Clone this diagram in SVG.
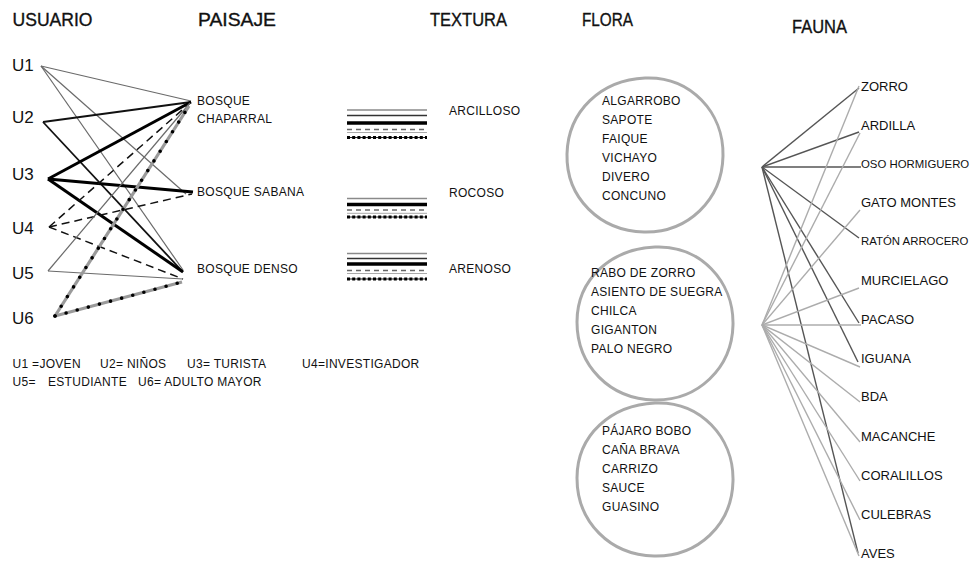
<svg xmlns="http://www.w3.org/2000/svg" width="976" height="561" viewBox="0 0 976 561">
<style>
text{font-family:"Liberation Sans",Arial,sans-serif;fill:#111}
.h{font-size:18px;stroke:#111;stroke-width:0.35}
.u{font-size:17px}
.s{font-size:12px;letter-spacing:0.3px}
.f{font-size:13px}
.fs{font-size:11.4px}
.c1{stroke:#6a6a6a;stroke-width:1.2;fill:none}
.c2{stroke:#111;stroke-width:1.8;fill:none}
.c3{stroke:#000;stroke-width:3;fill:none}
.cd{stroke:#111;stroke-width:1.5;stroke-dasharray:8 5;fill:none}
.cg{stroke:#9a9a9a;stroke-width:3.2;fill:none}
.cp{stroke:#000;stroke-width:3.6;stroke-dasharray:0 11.5;stroke-linecap:round;fill:none}
.fa{stroke:#555;stroke-width:1.4;fill:none}
.fb{stroke:#acacac;stroke-width:1.4;fill:none}
.circ{fill:none;stroke:#aaa;stroke-width:3}
.t1{stroke:#8a8a8a;stroke-width:1.3}
.t2{stroke:#333;stroke-width:1.6}
.t3{stroke:#000;stroke-width:3.5}
.t4{stroke:#666;stroke-width:1.3;stroke-dasharray:5 4}
.t5{stroke:#aaa;stroke-width:1}
.t6a{stroke:#222;stroke-width:1.2}
.t6b{stroke:#000;stroke-width:3.2;stroke-dasharray:3 2.2}
</style>

<!-- headings -->
<g id="headings">
<text class="h" x="12.5" y="26" textLength="80" lengthAdjust="spacingAndGlyphs">USUARIO</text>
<text class="h" x="198" y="26" textLength="78" lengthAdjust="spacingAndGlyphs">PAISAJE</text>
<text class="h" x="430" y="26" textLength="77" lengthAdjust="spacingAndGlyphs">TEXTURA</text>
<text class="h" x="582" y="26" textLength="51" lengthAdjust="spacingAndGlyphs">FLORA</text>
<text class="h" x="792" y="33" textLength="55" lengthAdjust="spacingAndGlyphs">FAUNA</text>
</g>

<!-- connectors -->
<g id="connectors">
<!-- U1 -->
<line class="c1" x1="41" y1="66" x2="191" y2="101"/>
<line class="c1" x1="41" y1="66" x2="186" y2="194"/>
<line class="c1" x1="41" y1="66" x2="183" y2="270"/>
<!-- U2 -->
<line class="c2" x1="43" y1="122" x2="191" y2="102"/>
<line class="c2" x1="43" y1="122" x2="183" y2="272"/>
<!-- U3 -->
<line class="c3" x1="48" y1="179" x2="191" y2="102"/>
<line class="c3" x1="48" y1="179" x2="193" y2="192"/>
<line class="c3" x1="48" y1="179" x2="183" y2="272"/>
<!-- U4 -->
<line class="cd" x1="49" y1="227" x2="189" y2="104"/>
<line class="cd" x1="49" y1="227" x2="192" y2="194"/>
<line class="cd" x1="49" y1="227" x2="183" y2="279"/>
<!-- U5 -->
<line class="c1" x1="48" y1="271" x2="190" y2="103"/>
<line class="c1" x1="48" y1="271" x2="183" y2="279"/>
<!-- U6 -->
<line class="cg" x1="55" y1="316" x2="189" y2="106"/>
<line class="cg" x1="55" y1="316" x2="182" y2="282"/>
<line class="cp" x1="55" y1="316" x2="189" y2="106"/>
<line class="cp" x1="55" y1="316" x2="182" y2="282"/>
<!-- fauna hub A -->
<line class="fa" x1="762" y1="167" x2="859" y2="88"/>
<line class="fa" x1="762" y1="167" x2="859" y2="132"/>
<line class="fa" x1="762" y1="167" x2="861" y2="167"/>
<line class="fa" x1="762" y1="167" x2="859" y2="238"/>
<line class="fa" x1="762" y1="167" x2="859" y2="323"/>
<line class="fa" x1="762" y1="167" x2="858" y2="362"/>
<line class="fa" x1="762" y1="167" x2="858" y2="553"/>
<!-- fauna hub B -->
<line class="fb" x1="762" y1="325" x2="859" y2="86"/>
<line class="fb" x1="762" y1="325" x2="860" y2="133"/>
<line class="fb" x1="762" y1="325" x2="860" y2="210"/>
<line class="fb" x1="762" y1="325" x2="859" y2="288"/>
<line class="fb" x1="762" y1="325" x2="861" y2="325"/>
<line class="fb" x1="762" y1="325" x2="860" y2="367"/>
<line class="fb" x1="762" y1="325" x2="860" y2="402"/>
<line class="fb" x1="762" y1="325" x2="860" y2="442"/>
<line class="fb" x1="762" y1="325" x2="860" y2="481"/>
<line class="fb" x1="762" y1="325" x2="860" y2="520"/>
<line class="fb" x1="762" y1="325" x2="859" y2="556"/>
</g>

<!-- users -->
<g id="U1"><text class="u" x="12" y="71">U1</text></g>
<g id="U2"><text class="u" x="12" y="123">U2</text></g>
<g id="U3"><text class="u" x="12" y="180">U3</text></g>
<g id="U4"><text class="u" x="12" y="234">U4</text></g>
<g id="U5"><text class="u" x="12" y="279">U5</text></g>
<g id="U6"><text class="u" x="12" y="324">U6</text></g>

<!-- paisaje -->
<g id="bosque-chaparral"><text class="s" x="197" y="105">BOSQUE</text><text class="s" x="197" y="123">CHAPARRAL</text></g>
<g id="bosque-sabana"><text class="s" x="197" y="196">BOSQUE SABANA</text></g>
<g id="bosque-denso"><text class="s" x="197" y="273">BOSQUE DENSO</text></g>

<!-- legend -->
<g id="legend">
<text class="s" x="12.5" y="368">U1 =JOVEN</text>
<text class="s" x="100" y="368">U2= NIÑOS</text>
<text class="s" x="187" y="368">U3= TURISTA</text>
<text class="s" x="302" y="368">U4=INVESTIGADOR</text>
<text class="s" x="12.5" y="386">U5=</text>
<text class="s" x="48" y="386">ESTUDIANTE</text>
<text class="s" x="138" y="386">U6= ADULTO MAYOR</text>
</g>

<!-- textura -->
<g id="arcilloso">
<line class="t1" x1="347" y1="110" x2="427" y2="110"/>
<line class="t2" x1="347" y1="115.5" x2="427" y2="115.5"/>
<line class="t3" x1="347" y1="123" x2="427" y2="123"/>
<line class="t4" x1="347" y1="129.5" x2="427" y2="129.5"/>
<line class="t5" x1="347" y1="132.5" x2="427" y2="132.5"/>
<line class="t6a" x1="347" y1="137.5" x2="427" y2="137.5"/>
<line class="t6b" x1="347" y1="137.5" x2="427" y2="137.5"/>
<text class="s" x="449" y="115">ARCILLOSO</text>
</g>
<g id="rocoso">
<line class="t1" x1="347" y1="198.5" x2="427" y2="198.5"/>
<line class="t3" x1="347" y1="204.5" x2="427" y2="204.5"/>
<line class="t4" x1="347" y1="210" x2="427" y2="210"/>
<line class="t5" x1="347" y1="213.3" x2="427" y2="213.3"/>
<line class="t6a" x1="347" y1="217" x2="427" y2="217"/>
<line class="t6b" x1="347" y1="217" x2="427" y2="217"/>
<text class="s" x="449" y="197">ROCOSO</text>
</g>
<g id="arenoso">
<line class="t1" x1="347" y1="253.5" x2="427" y2="253.5"/>
<line class="t2" x1="347" y1="258.5" x2="427" y2="258.5"/>
<line class="t3" x1="347" y1="264" x2="427" y2="264"/>
<line class="t4" x1="347" y1="270.5" x2="427" y2="270.5"/>
<line class="t5" x1="347" y1="273.5" x2="427" y2="273.5"/>
<line class="t6a" x1="347" y1="279" x2="427" y2="279"/>
<line class="t6b" x1="347" y1="279" x2="427" y2="279"/>
<text class="s" x="449" y="273">ARENOSO</text>
</g>

<!-- flora -->
<g id="flora-1">
<path class="circ" d="M645 78 C690 76 724 112 723 156 C722 200 688 233 644 232 C600 231 566 198 567 154 C568 111 601 80 645 78 Z"/>
<text class="s" x="602" y="105">ALGARROBO</text>
<text class="s" x="602" y="124">SAPOTE</text>
<text class="s" x="602" y="143">FAIQUE</text>
<text class="s" x="602" y="162">VICHAYO</text>
<text class="s" x="602" y="181">DIVERO</text>
<text class="s" x="602" y="200">CONCUNO</text>
</g>
<g id="flora-2">
<path class="circ" d="M655 247 C700 245 734 281 733 325 C732 368 698 401 654 400 C610 399 577 366 577 322 C577 279 611 249 655 247 Z"/>
<text class="s" x="591" y="277">RABO DE ZORRO</text>
<text class="s" x="591" y="296">ASIENTO DE SUEGRA</text>
<text class="s" x="591" y="315">CHILCA</text>
<text class="s" x="591" y="334">GIGANTON</text>
<text class="s" x="591" y="353">PALO NEGRO</text>
</g>
<g id="flora-3">
<path class="circ" d="M655 403 C700 401 734 437 733 481 C732 525 698 557 654 556 C610 555 577 522 577 478 C577 435 611 405 655 403 Z"/>
<text class="s" x="602" y="435">PÁJARO BOBO</text>
<text class="s" x="602" y="454">CAÑA BRAVA</text>
<text class="s" x="602" y="473">CARRIZO</text>
<text class="s" x="602" y="492">SAUCE</text>
<text class="s" x="602" y="511">GUASINO</text>
</g>

<!-- fauna -->
<g id="zorro"><text class="f" x="861" y="91">ZORRO</text></g>
<g id="ardilla"><text class="f" x="861" y="129.5">ARDILLA</text></g>
<g id="oso-hormiguero"><text class="fs" x="861" y="168">OSO HORMIGUERO</text></g>
<g id="gato-montes"><text class="f" x="861" y="207">GATO MONTES</text></g>
<g id="raton-arrocero"><text class="fs" x="861" y="245">RATÓN ARROCERO</text></g>
<g id="murcielago"><text class="f" x="861" y="284.5">MURCIELAGO</text></g>
<g id="pacaso"><text class="f" x="861" y="323.5">PACASO</text></g>
<g id="iguana"><text class="f" x="861" y="363">IGUANA</text></g>
<g id="bda"><text class="f" x="861" y="401">BDA</text></g>
<g id="macanche"><text class="f" x="861" y="441">MACANCHE</text></g>
<g id="coralillos"><text class="f" x="861" y="479.5">CORALILLOS</text></g>
<g id="culebras"><text class="f" x="861" y="518.5">CULEBRAS</text></g>
<g id="aves"><text class="f" x="861" y="558">AVES</text></g>
</svg>
